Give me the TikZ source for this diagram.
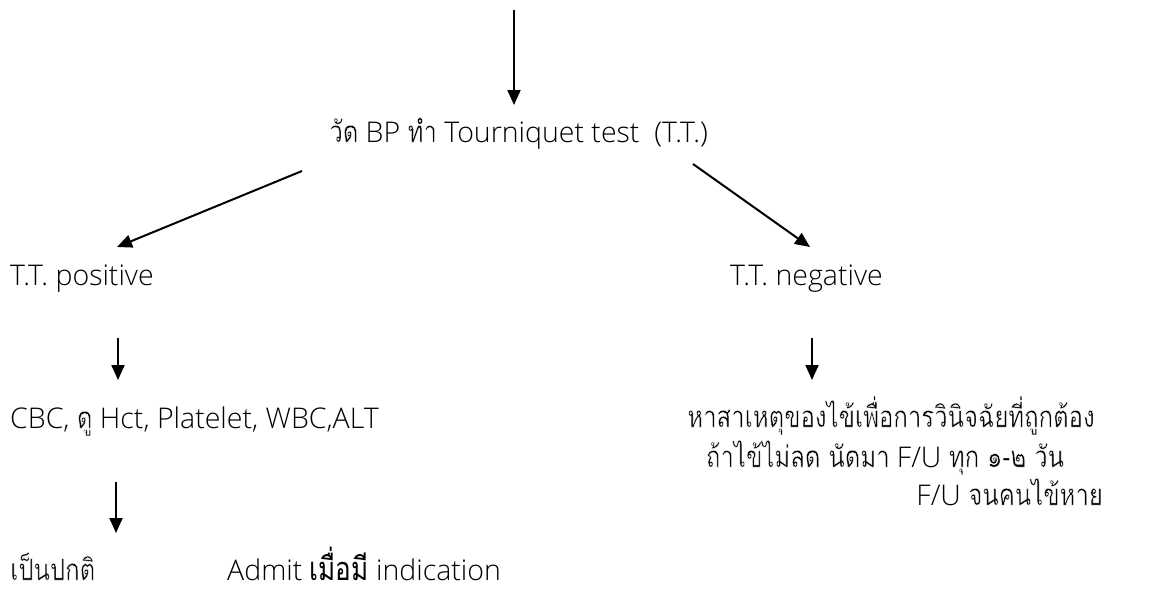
\documentclass[tikz,border=0pt]{standalone}
\usepackage{fontspec}
\setmainfont{Open Sans Light}
\newfontfamily\thai[Script=Thai,Scale=1.05,FakeStretch=0.8]{Loma}
% Thai text, made lighter by a thin white outline stroke over the fill
\newcommand\thaitxt[1]{{\special{pdf:literal direct 2 Tr 1 1 1 RG 0.4 w}\thai #1\special{pdf:literal direct 0 Tr 0 0 0 RG}}}
\usetikzlibrary{arrows.meta}
\begin{document}
\begin{tikzpicture}[x=1pt,y=-1pt,
  arr/.style={line width=2pt,-{Triangle[length=15pt,width=13pt]}},
  lbl/.style={inner sep=0pt,font=\fontsize{28.5}{34}\selectfont}]
\useasboundingbox (0,0) rectangle (1161,590);
% texts
\node[lbl,anchor=base east] (bp) at (708,142) {\thaitxt{วัด} BP \thaitxt{ทำ} Tourniquet test\ \ (T.T.)};
\node[lbl,anchor=base west] (pos) at (10,285) {T.T. positive};
\node[lbl,anchor=base west] (neg) at (730,285) {T.T. negative};
\node[lbl,anchor=base west] (cbc) at (10,428) {CBC, \thaitxt{ดู} Hct, Platelet, WBC,ALT};
\node[lbl,anchor=base west] (norm) at (10,580) {\thaitxt{เป็นปกติ}};
\node[lbl,anchor=base west] (adm) at (227,580) {Admit {\thai\fontsize{31}{34}\selectfont เมื่อมี} indication};
\node[lbl,anchor=base] (r1) at (891,427) {\thaitxt{หาสาเหตุของไข้เพื่อการวินิจฉัยที่ถูกต้อง}};
\node[lbl,anchor=base] (r2) at (885,467) {\thaitxt{ถ้าไข้ไม่ลด นัดมา} F/U \thaitxt{ทุก ๑-๒ วัน}};
\node[lbl,anchor=base east] (r3) at (1103,505) {F/U \thaitxt{จนคนไข้หาย}};
% arrow end points
\coordinate (a0s) at (514,10);   \coordinate (a0e) at (514,105);
\coordinate (a1s) at (302,171);  \coordinate (a1e) at (117,247);
\coordinate (a2s) at (693,164);  \coordinate (a2e) at (810,247);
\coordinate (a3s) at (118,338);  \coordinate (a3e) at (118,380);
\coordinate (a4s) at (812,338);  \coordinate (a4e) at (812,380);
\coordinate (a5s) at (116,482);  \coordinate (a5e) at (116,533);
\draw[arr] (a0s) -- (a0e);
\draw[arr] (a1s) -- (a1e);
\draw[arr] (a2s) -- (a2e);
\draw[arr] (a3s) -- (a3e);
\draw[arr] (a4s) -- (a4e);
\draw[arr] (a5s) -- (a5e);
\end{tikzpicture}
\end{document}
